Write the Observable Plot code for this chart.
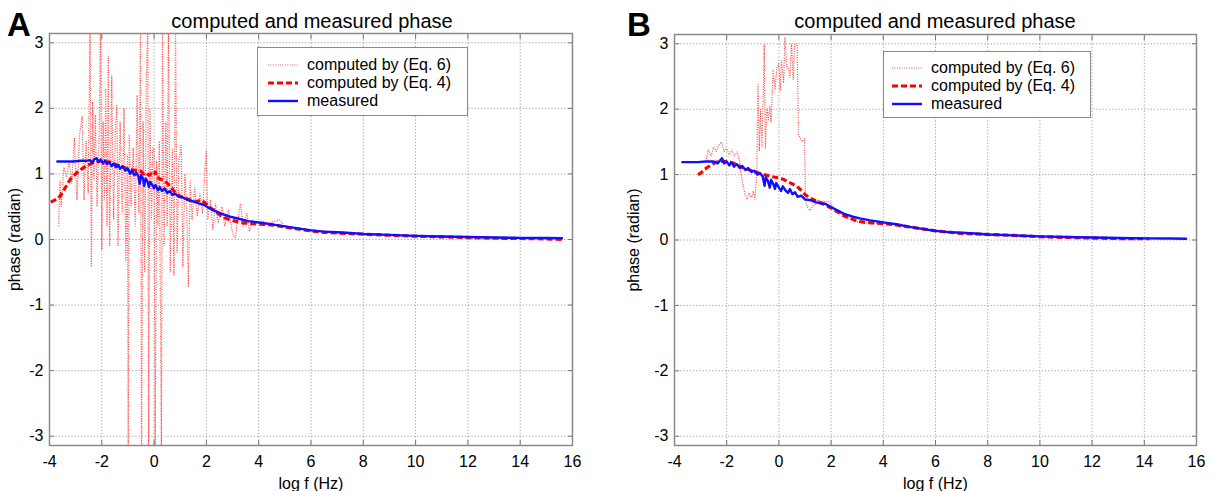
<!DOCTYPE html>
<html><head><meta charset="utf-8">
<script src="https://cdn.jsdelivr.net/npm/d3@7"></script>
<script src="https://cdn.jsdelivr.net/npm/@observablehq/plot@0.6"></script>
<style>
body{margin:0;background:#fff;}
#wrap{position:relative;width:1212px;height:491px;overflow:hidden;font-family:"Liberation Sans",Arial,sans-serif;color:#000;}
.panel{position:absolute;top:0;}
.title{position:absolute;font-size:20px;line-height:20px;white-space:nowrap;transform:translateX(-50%);}
.letter{position:absolute;font-family:"Liberation Sans",Arial,sans-serif;font-weight:bold;font-size:33px;line-height:33px;}
.legend{position:absolute;border:1.5px solid #8a8a8a;background:#fff;box-sizing:border-box;}
.row{position:absolute;left:0;height:18px;font-size:16px;line-height:18px;white-space:nowrap;}
.row svg{position:absolute;top:4px;}
.row span{position:absolute;top:0;}
</style></head><body><div id="wrap"></div><script>
// ---- axes ----
const xDomain = [-4, 16];
const yDomain = [-3.1416, 3.1416];
const xTicks = [-4, -2, 0, 2, 4, 6, 8, 10, 12, 14, 16];
const yTicks = [-3, -2, -1, 0, 1, 2, 3];
const titleText = "computed and measured phase";
const xLabel = "log f (Hz)";
const yLabel = "phase (radian)";
const seriesNames = ["computed by (Eq. 6)", "computed by (Eq. 4)", "measured"];

// ---- panel A data ----
const aEq6 = [[-3.65,0.2],[-3.6,0.9],[-3.55,0.5],[-3.45,1.1],[-3.35,0.95],[-3.25,1.2],[-3.15,0.85],[-3.05,1.55],[-2.95,0.6],[-2.85,1.6],[-2.75,1.88],[-2.68,0.6],[-2.6,1.5],[-2.52,0.7],[-2.45,3.3],[-2.4,-0.42],[-2.35,2.1],[-2.3,0.9],[-2.25,1.9],[-2.18,0.5],[-2.1,1.6],[-2.05,3.3],[-2.0,-0.16],[-1.95,1.8],[-1.9,0.6],[-1.85,2.3],[-1.8,0.2],[-1.75,2.8],[-1.7,-0.1],[-1.62,2.5],[-1.55,0.3],[-1.48,1.7],[-1.42,2.05],[-1.38,-0.1],[-1.3,1.8],[-1.22,0.4],[-1.15,2.0],[-1.08,-0.33],[-1.02,1.3],[-0.99,-3.3],[-0.95,1.6],[-0.88,0.5],[-0.8,1.4],[-0.72,0.2],[-0.65,2.2],[-0.58,0.4],[-0.52,3.3],[-0.48,-3.3],[-0.42,1.8],[-0.36,-0.5],[-0.3,2.4],[-0.24,3.3],[-0.21,-3.3],[-0.16,2.0],[-0.1,0.3],[-0.05,1.4],[0.0,1.39],[0.04,-3.3],[0.1,1.2],[0.15,0.2],[0.2,1.5],[0.28,-3.3],[0.32,3.3],[0.38,-0.1],[0.45,1.8],[0.5,0.2],[0.55,3.3],[0.62,-0.5],[0.7,1.4],[0.76,-0.55],[0.82,3.3],[0.88,-0.2],[0.95,1.2],[1.04,1.44],[1.1,-0.42],[1.18,1.0],[1.25,0.4],[1.31,-0.72],[1.38,0.9],[1.45,0.3],[1.55,0.8],[1.65,0.35],[1.75,0.7],[1.85,0.4],[1.95,1.1],[2.0,1.36],[2.05,0.3],[2.15,0.6],[2.25,0.15],[2.35,0.55],[2.45,0.25],[2.6,0.5],[2.7,0.2],[2.85,0.45],[3.0,0.1],[3.1,0.02],[3.2,0.3],[3.3,0.55],[3.4,0.2],[3.55,0.4],[3.65,0.12],[3.75,0.3],[3.9,0.25],[4.1,0.28],[4.4,0.25],[4.8,0.3],[5.0,0.2],[6.0,0.14],[8.0,0.08],[10.0,0.05],[12.0,0.03],[14.0,0.02],[15.6,0.01]];
const aEq4 = [[-3.95,0.57],[-3.8,0.6],[-3.65,0.63],[-3.5,0.72],[-3.35,0.82],[-3.2,0.92],[-3.05,0.98],[-2.9,1.04],[-2.75,1.08],[-2.6,1.12],[-2.45,1.15],[-2.3,1.18],[-2.15,1.19],[-2.0,1.2],[-1.85,1.19],[-1.7,1.18],[-1.55,1.16],[-1.4,1.13],[-1.25,1.11],[-1.1,1.09],[-0.95,1.07],[-0.8,1.06],[-0.65,1.05],[-0.5,1.04],[-0.4,1.0],[-0.3,1.02],[-0.2,0.98],[-0.1,1.0],[0.0,0.98],[0.05,1.03],[0.1,0.95],[0.25,0.92],[0.4,0.9],[0.5,0.86],[0.6,0.82],[0.7,0.77],[0.8,0.72],[0.9,0.69],[1.0,0.66],[1.2,0.63],[1.4,0.6],[1.6,0.58],[1.8,0.6],[1.95,0.56],[2.1,0.5],[2.3,0.44],[2.5,0.38],[2.7,0.33],[2.9,0.3],[3.1,0.28],[3.3,0.26],[3.5,0.25],[3.8,0.24],[4.2,0.23],[4.6,0.22],[5.0,0.19],[5.5,0.16],[6.0,0.13],[6.5,0.11],[7.0,0.1],[7.5,0.09],[8.0,0.08],[9.0,0.065],[10.0,0.05],[11.0,0.04],[12.0,0.03],[13.0,0.02],[14.0,0.015],[15.0,0.01],[15.6,0.0]];
const aMeas = [[-3.7,1.19],[-3.4,1.19],[-3.1,1.19],[-2.8,1.2],[-2.6,1.2],[-2.45,1.21],[-2.35,1.17],[-2.3,1.22],[-2.2,1.24],[-2.12,1.18],[-2.05,1.22],[-1.95,1.16],[-1.88,1.2],[-1.8,1.15],[-1.72,1.18],[-1.62,1.12],[-1.55,1.16],[-1.45,1.1],[-1.38,1.14],[-1.3,1.08],[-1.2,1.12],[-1.1,1.05],[-1.0,1.08],[-0.92,1.0],[-0.85,1.05],[-0.75,0.98],[-0.68,1.02],[-0.6,0.96],[-0.55,0.85],[-0.5,0.98],[-0.42,0.92],[-0.38,0.82],[-0.32,0.93],[-0.25,0.88],[-0.2,0.8],[-0.15,0.88],[-0.05,0.82],[0.0,0.78],[0.05,0.83],[0.15,0.75],[0.22,0.8],[0.3,0.74],[0.4,0.78],[0.5,0.71],[0.6,0.74],[0.7,0.68],[0.8,0.7],[0.95,0.65],[1.1,0.64],[1.3,0.6],[1.5,0.58],[1.7,0.55],[1.9,0.53],[2.1,0.48],[2.3,0.44],[2.6,0.39],[2.9,0.35],[3.2,0.32],[3.6,0.28],[4.0,0.26],[4.5,0.23],[5.0,0.2],[5.5,0.17],[6.0,0.14],[6.5,0.12],[7.0,0.11],[7.5,0.1],[8.0,0.085],[9.0,0.07],[10.0,0.055],[11.0,0.045],[12.0,0.038],[13.0,0.03],[14.0,0.025],[15.0,0.022],[15.6,0.02]];

// ---- panel B data ----
const bEq6 = [[-2.8,1.2],[-2.7,1.38],[-2.6,1.28],[-2.5,1.42],[-2.4,1.35],[-2.3,1.45],[-2.2,1.5],[-2.1,1.35],[-2.0,1.4],[-1.9,1.3],[-1.8,1.38],[-1.7,1.28],[-1.6,1.35],[-1.5,1.2],[-1.45,1.0],[-1.38,0.85],[-1.3,0.7],[-1.22,0.62],[-1.15,0.72],[-1.05,0.65],[-0.98,0.75],[-0.92,0.62],[-0.85,1.0],[-0.8,2.38],[-0.75,1.36],[-0.7,2.0],[-0.65,1.42],[-0.6,2.2],[-0.56,2.99],[-0.52,1.4],[-0.46,2.02],[-0.4,1.82],[-0.35,2.05],[-0.3,1.8],[-0.22,2.6],[-0.15,2.3],[-0.08,2.62],[0.0,2.7],[0.05,2.28],[0.1,2.75],[0.18,2.4],[0.23,3.1],[0.3,2.65],[0.38,2.6],[0.42,2.48],[0.48,3.0],[0.55,2.45],[0.6,3.0],[0.7,3.0],[0.75,1.62],[0.82,1.55],[0.9,1.5],[0.98,1.55],[1.02,0.6],[1.1,0.5],[1.2,0.45],[1.3,0.52],[1.4,0.55],[1.5,0.62],[1.6,0.55],[1.7,0.6],[1.8,0.58],[1.9,0.6],[2.0,0.55],[2.1,0.5],[2.3,0.42],[2.6,0.35],[3.0,0.28],[3.5,0.26],[4.5,0.23],[6.0,0.14],[8.0,0.085],[10.0,0.05],[12.0,0.03],[14.0,0.02]];
const bEq4 = [[-3.1,1.0],[-3.0,1.02],[-2.85,1.08],[-2.7,1.12],[-2.55,1.16],[-2.4,1.19],[-2.25,1.2],[-2.1,1.2],[-1.95,1.2],[-1.8,1.18],[-1.65,1.16],[-1.5,1.13],[-1.35,1.1],[-1.2,1.08],[-1.05,1.06],[-0.9,1.04],[-0.75,1.02],[-0.6,1.0],[-0.45,0.99],[-0.3,0.97],[-0.15,0.96],[0.0,0.95],[0.15,0.93],[0.3,0.9],[0.45,0.87],[0.6,0.84],[0.75,0.8],[0.9,0.74],[1.05,0.68],[1.2,0.64],[1.4,0.6],[1.6,0.57],[1.8,0.53],[2.0,0.49],[2.2,0.44],[2.4,0.39],[2.6,0.35],[2.8,0.32],[3.0,0.29],[3.3,0.27],[3.6,0.26],[4.0,0.25],[4.5,0.23],[5.0,0.2],[5.5,0.17],[6.0,0.14],[6.5,0.12],[7.0,0.1],[8.0,0.085],[9.0,0.07],[10.0,0.05],[11.0,0.04],[12.0,0.03],[13.0,0.022],[14.2,0.02]];
const bMeas = [[-3.7,1.19],[-3.4,1.19],[-3.1,1.19],[-2.8,1.2],[-2.5,1.2],[-2.35,1.17],[-2.25,1.22],[-2.18,1.25],[-2.1,1.17],[-2.0,1.2],[-1.9,1.14],[-1.82,1.19],[-1.72,1.12],[-1.62,1.16],[-1.5,1.1],[-1.4,1.13],[-1.28,1.07],[-1.18,1.1],[-1.05,1.04],[-0.95,1.06],[-0.82,1.0],[-0.72,1.02],[-0.62,0.97],[-0.55,0.83],[-0.5,0.96],[-0.42,0.9],[-0.35,0.8],[-0.3,0.92],[-0.22,0.86],[-0.15,0.78],[-0.1,0.87],[0.0,0.8],[0.08,0.75],[0.15,0.82],[0.25,0.76],[0.35,0.72],[0.42,0.78],[0.52,0.7],[0.62,0.73],[0.72,0.66],[0.85,0.68],[1.0,0.62],[1.2,0.61],[1.4,0.58],[1.6,0.56],[1.8,0.55],[2.0,0.5],[2.2,0.46],[2.5,0.4],[2.8,0.36],[3.1,0.33],[3.5,0.3],[4.0,0.27],[4.5,0.24],[5.0,0.2],[5.5,0.17],[6.0,0.14],[6.5,0.12],[7.0,0.11],[7.5,0.1],[8.0,0.085],[9.0,0.07],[10.0,0.055],[11.0,0.045],[12.0,0.038],[13.0,0.03],[14.0,0.025],[15.0,0.022],[15.6,0.02]];

const toRows = arr => arr.map(([x, y]) => ({x, y}));
const fmt = d => String(d);

const styles = {
  eq6: {stroke: "#ff4a4a", strokeWidth: 1.2, strokeDasharray: "1,1.4", strokeLinecap: "butt", strokeLinejoin: "miter"},
  eq4: {stroke: "#ff0000", strokeWidth: 3.2, strokeDasharray: "6,3", strokeLinecap: "butt"},
  meas: {stroke: "#1010ff", strokeWidth: 2.4}
};

function panel(eq6, eq4, meas, cfg) {
  const gridStyle = {stroke: "#a0a0a0", strokeOpacity: 1, strokeWidth: 1, strokeDasharray: "1.2,2"};
  const axisFont = {fontSize: 16, fill: "#000"};
  return Plot.plot({
    width: 606, height: 491,
    marginLeft: cfg.marginLeft, marginRight: cfg.marginRight, marginTop: cfg.marginTop, marginBottom: 46,
    style: {fontFamily: "Liberation Sans, Arial, sans-serif", fontSize: "16px", color: "#000", background: "transparent", overflow: "visible"},
    x: {domain: xDomain},
    y: {domain: yDomain},
    marks: [
      Plot.gridX(xTicks, gridStyle),
      Plot.gridY(yTicks, gridStyle),
      Plot.line(toRows(eq6), {x: "x", y: "y", ...styles.eq6, clip: true}),
      Plot.line(toRows(eq4), {x: "x", y: "y", ...styles.eq4, clip: true}),
      Plot.line(toRows(meas), {x: "x", y: "y", ...styles.meas, clip: true}),
      Plot.axisX(xTicks, {anchor: "bottom", tickSize: -5, tickPadding: 15, stroke: "#777", ...axisFont, tickFormat: fmt, label: xLabel, labelAnchor: "center", labelArrow: "none"}),
      Plot.axisX(xTicks, {anchor: "top", tickSize: -5, stroke: "#777", tickFormat: () => "", label: null}),
      Plot.axisY(yTicks, {anchor: "left", tickSize: -5, tickPadding: 11, stroke: "#777", ...axisFont, tickFormat: fmt, label: yLabel, labelAnchor: "center", labelArrow: "none", labelOffset: cfg.labelOffset}),
      Plot.axisY(yTicks, {anchor: "right", tickSize: -5, stroke: "#777", tickFormat: () => "", label: null}),
      Plot.frame({stroke: "#8a8a8a", strokeWidth: 1.5})
    ]
  });
}

const wrap = document.getElementById("wrap");
function addPanel(left, svg) {
  const d = document.createElement("div");
  d.className = "panel"; d.style.left = left + "px";
  d.appendChild(svg); wrap.appendChild(d);
}
function addDiv(cls, text, css) {
  const d = document.createElement("div");
  d.className = cls; d.textContent = text;
  Object.assign(d.style, css); wrap.appendChild(d); return d;
}
function sample(style) {
  const ns = "http://www.w3.org/2000/svg";
  const s = document.createElementNS(ns, "svg");
  s.setAttribute("width", 32); s.setAttribute("height", 10);
  const l = document.createElementNS(ns, "line");
  l.setAttribute("x1", 1); l.setAttribute("x2", 31); l.setAttribute("y1", 5); l.setAttribute("y2", 5);
  l.setAttribute("stroke", style.stroke); l.setAttribute("stroke-width", style.strokeWidth);
  l.setAttribute("stroke-linecap", "butt");
  if (style.strokeDasharray) l.setAttribute("stroke-dasharray", style.strokeDasharray);
  s.appendChild(l); return s;
}
function addLegend(cfg) {
  const box = addDiv("legend", "", {left: cfg.left + "px", top: cfg.top + "px", width: cfg.width + "px", height: cfg.height + "px"});
  const keys = ["eq6", "eq4", "meas"];
  keys.forEach((k, i) => {
    const r = document.createElement("div");
    r.className = "row"; r.style.top = (cfg.rows[i] - 9) + "px"; r.style.width = cfg.width + "px";
    const s = sample(styles[k]); s.style.left = cfg.sampleLeft + "px";
    const t = document.createElement("span"); t.textContent = seriesNames[i]; t.style.left = cfg.textLeft + "px";
    r.appendChild(s); r.appendChild(t); box.appendChild(r);
  });
}

addPanel(0, panel(aEq6, aEq4, aMeas, {marginLeft: 49, marginRight: 34, marginTop: 33, labelOffset: 41}));
addPanel(606, panel(bEq6, bEq4, bMeas, {marginLeft: 68, marginRight: 16, marginTop: 34, labelOffset: 47}));

addDiv("title", titleText, {left: "312px", top: "11px"});
addDiv("title", titleText, {left: "935px", top: "11px"});
addDiv("letter", "A", {left: "7px", top: "8px"});
addDiv("letter", "B", {left: "627px", top: "8px"});

addLegend({left: 257, top: 47, width: 211, height: 69, rows: [17, 35, 53], sampleLeft: 9, textLeft: 49});
addLegend({left: 883, top: 51, width: 208, height: 67, rows: [16, 34, 52], sampleLeft: 7, textLeft: 47});
</script></body></html>
